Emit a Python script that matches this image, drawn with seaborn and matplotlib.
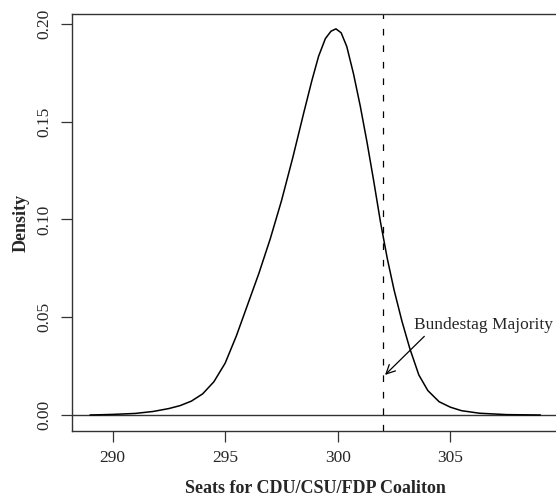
import matplotlib
matplotlib.use("Agg")
import matplotlib.pyplot as plt
import seaborn as sns
import pandas as pd

# Density curve
seats = [289.0, 290.0, 291.0, 291.8, 292.5, 293.0, 293.5, 294.0, 294.5, 295.0,
         295.5, 296.0, 296.5, 297.0, 297.5, 298.0, 298.5, 298.85, 299.15, 299.45,
         299.7, 299.92, 300.15, 300.4, 300.7, 301.0, 301.3, 301.6, 301.9, 302.2,
         302.5, 302.85, 303.2, 303.6, 304.0, 304.5, 305.0, 305.5, 306.3, 307.5,
         309.0]
density = [0.0000, 0.0003, 0.0008, 0.0018, 0.0033, 0.0048, 0.0071, 0.0108, 0.0170, 0.0265,
           0.0405, 0.0565, 0.0725, 0.0900, 0.1095, 0.1315, 0.1550, 0.1710, 0.1835, 0.1925,
           0.1963, 0.1975, 0.1955, 0.1885, 0.1745, 0.1580, 0.1395, 0.1195, 0.0985, 0.0800,
           0.0640, 0.0480, 0.0340, 0.0205, 0.0125, 0.0068, 0.0040, 0.0022, 0.0009, 0.0002,
           0.0000]
majority = 302
x_ticks = [290, 295, 300, 305]
y_ticks = [0.00, 0.05, 0.10, 0.15, 0.20]
y_tick_labels = ["0.00", "0.05", "0.10", "0.15", "0.20"]
annotation = "Bundestag Majority"
x_label = "Seats for CDU/CSU/FDP Coaliton"
y_label = "Density"

df = pd.DataFrame({"seats": seats, "density": density})

sns.set_style("ticks")
plt.rcParams["font.family"] = ["Liberation Serif", "DejaVu Serif"]

W, H = 556, 496
fig = plt.figure(figsize=(W / 100, H / 100), dpi=100)
left, right, top, bottom = 72, 558, 14, 431
ax = fig.add_axes([left / W, 1 - bottom / H, (right - left) / W, (bottom - top) / H])

sns.lineplot(data=df, x="seats", y="density", color="black", linewidth=1.1, ax=ax)
ax.axhline(0, color="#333333", linewidth=1.0, zorder=1)
ax.axvline(majority, color="black", linewidth=0.9, dashes=(5.3, 7.9))

ax.annotate(annotation, xy=(302.1, 0.0205), xytext=(306.46, 0.046),
            ha="center", va="center", fontsize=12.5,
            arrowprops=dict(arrowstyle="->", color="black", lw=0.9,
                            mutation_scale=16, shrinkA=0, shrinkB=0,
                            relpos=(0.1, 0.0)))

ax.set_xlim(288.2, 309.78)
ax.set_ylim(-0.00818, 0.2051)
ax.set_xticks(x_ticks)
ax.set_xticklabels([str(t) for t in x_ticks])
ax.set_yticks(y_ticks)
ax.set_yticklabels(y_tick_labels, rotation=90, va="center")
ax.tick_params(axis="both", length=8, width=0.9, pad=6, labelsize=12.5, color="#333333")
for s in ax.spines.values():
    s.set_linewidth(1.0)
    s.set_color("#333333")
    s.set_visible(True)

ax.set_xlabel(x_label, fontsize=13, fontweight="bold", labelpad=10)
ax.set_ylabel(y_label, fontsize=13, fontweight="bold", labelpad=5)

fig.savefig("out.png", dpi=100)
